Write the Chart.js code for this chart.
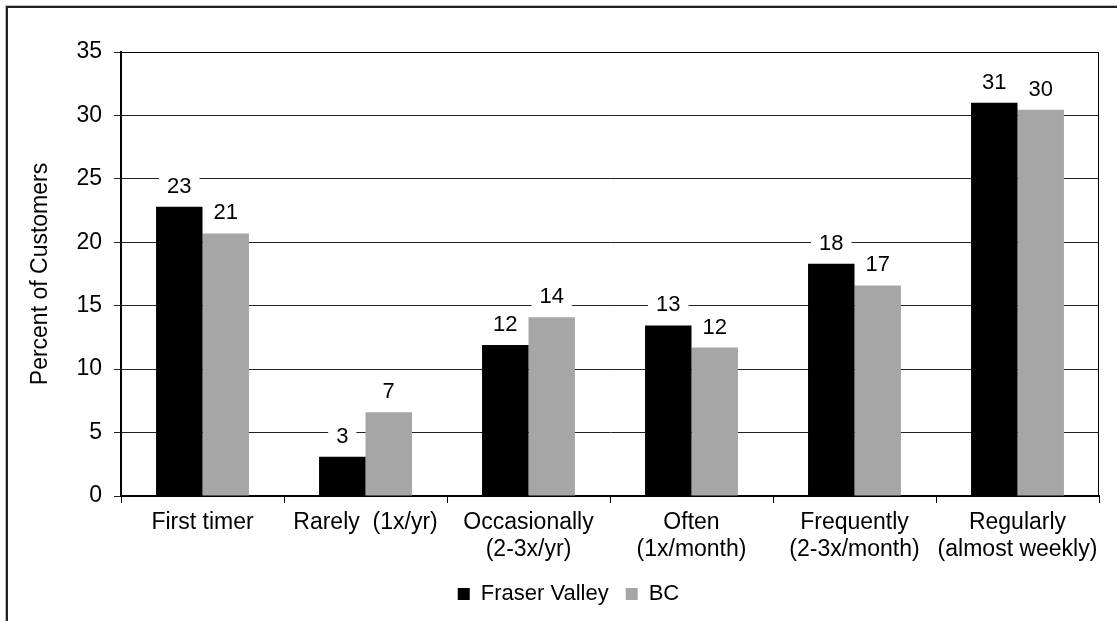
<!DOCTYPE html>
<html>
<head>
<meta charset="utf-8">
<script src="https://cdn.jsdelivr.net/npm/chart.js@4.4.0/dist/chart.umd.min.js"></script>
<style>
  html, body { margin: 0; padding: 0; background: #fff; }
  #wrap { position: relative; width: 1117px; height: 621px; overflow: hidden; }
  #frame { position: absolute; left: 6px; top: 6px; width: 1200px; height: 700px;
           border-left: 2px solid #222; border-top: 2px solid #222;
           box-shadow: -1px -1px 0 #bbb; }
  #chart { position: absolute; left: 0; top: 0; }
</style>
</head>
<body>
<div id="wrap">
  <div id="frame"></div>
  <canvas id="chart" width="1117" height="621"></canvas>
</div>
<script>
// categories and series (percent of customers)
var categories = [
  'First timer',
  'Rarely  (1x/yr)',
  ['Occasionally', '(2-3x/yr)'],
  ['Often', '(1x/month)'],
  ['Frequently', '(2-3x/month)'],
  ['Regularly', '(almost weekly)']
];
var fraserValley = [22.8, 3.1, 11.9, 13.45, 18.3, 31.0];
var bc = [20.7, 6.6, 14.1, 11.7, 16.6, 30.45];
var yTicks = [0, 5, 10, 15, 20, 25, 30, 35];

var FONT = '"Liberation Sans", Arial, sans-serif';

/**
 * value labels on top of each bar, white box behind so the gridline breaks
 */
var barLabels = {
  id: 'barLabels',
  afterDatasetsDraw: function (chart) {
    var ctx = chart.ctx;
    ctx.save();
    ctx.font = '22px ' + FONT;
    ctx.textAlign = 'center';
    ctx.textBaseline = 'middle';
    chart.data.datasets.forEach(function (ds, i) {
      chart.getDatasetMeta(i).data.forEach(function (bar, j) {
        var txt = String(Math.round(ds.data[j]));
        var w = ctx.measureText(txt).width + 16;
        var y = bar.y - 21;
        ctx.fillStyle = '#fff';
        ctx.fillRect(bar.x - w / 2, y - 10, w, 20);
        ctx.fillStyle = '#000';
        ctx.fillText(txt, bar.x, y + 1);
      });
    });
    ctx.restore();
  }
};

/**
 * box round the plot area, legend nudged right like the original
 */
var plotBorder = {
  id: 'plotBorder',
  afterLayout: function (chart) {
    chart.legend.left += 19;
    chart.legend.right += 19;
  },
  beforeDatasetsDraw: function (chart) {
    var a = chart.chartArea, ctx = chart.ctx;
    ctx.save();
    ctx.strokeStyle = '#000';
    ctx.lineWidth = 1;
    ctx.strokeRect(a.left + 0.5, a.top + 0.5, a.right - a.left - 1, a.bottom - a.top);
    ctx.restore();
  }
};

new Chart(document.getElementById('chart').getContext('2d'), {
  type: 'bar',
  data: {
    labels: categories,
    datasets: [
      { label: 'Fraser Valley', data: fraserValley, backgroundColor: '#000000',
        categoryPercentage: 0.57, barPercentage: 1.0 },
      { label: 'BC', data: bc, backgroundColor: '#a6a6a6',
        categoryPercentage: 0.57, barPercentage: 1.0 }
    ]
  },
  options: {
    responsive: false,
    animation: false,
    devicePixelRatio: 1,
    layout: { padding: { left: 0, top: 52, right: 18, bottom: 6 } },
    plugins: {
      legend: {
        position: 'bottom',
        labels: { boxWidth: 12, boxHeight: 12, padding: 17, color: '#000',
                  font: { family: FONT, size: 22 } }
      },
      tooltip: { enabled: false }
    },
    scales: {
      x: {
        offset: true,
        grid: { offset: true, drawOnChartArea: false, tickLength: 7, color: '#000' },
        border: { color: '#000', width: 2 },
        ticks: { color: '#000', padding: 6, maxRotation: 0, autoSkip: false,
                 font: { family: FONT, size: 23, lineHeight: 1.17 } },
        afterFit: function (s) { s.height = 70; }
      },
      y: {
        min: 0, max: 35,
        afterBuildTicks: function (s) { s.ticks = yTicks.map(function (v) { return { value: v }; }); },
        grid: { color: '#222', lineWidth: 1, tickLength: 7 },
        border: { color: '#000', width: 2 },
        ticks: { color: '#000', padding: 12, font: { family: FONT, size: 23 } },
        title: { display: true, text: 'Percent of Customers', color: '#000',
                 padding: { top: 27, bottom: 0 }, font: { family: FONT, size: 23 } },
        afterFit: function (s) { s.width = 121; }
      }
    }
  },
  plugins: [plotBorder, barLabels]
});
</script>
</body>
</html>
